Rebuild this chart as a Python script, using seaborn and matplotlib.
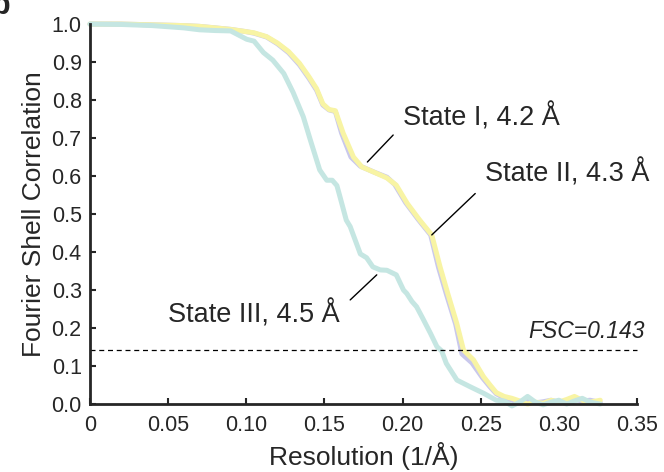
import pandas as pd
import matplotlib
matplotlib.use("Agg")
import matplotlib.pyplot as plt
import seaborn as sns

# ================================
# 1. FSC curves
# ================================

res_state2 = [0, 0.02, 0.04, 0.06, 0.07, 0.08, 0.09, 0.10, 0.105, 0.113, 0.12, 0.127,
              0.134, 0.14, 0.145, 0.149, 0.153, 0.157, 0.162, 0.1686, 0.174, 0.1835,
              0.19, 0.196, 0.203, 0.211, 0.2187, 0.224, 0.229, 0.2347, 0.239, 0.2454,
              0.2518, 0.256, 0.26, 0.265, 0.27, 0.275, 0.28, 0.285, 0.29, 0.295, 0.30,
              0.305, 0.31, 0.315, 0.32, 0.3265]
fsc_state2 = [1.0, 1.0, 0.998, 0.996, 0.994, 0.99, 0.986, 0.98, 0.977, 0.967, 0.95, 0.928,
              0.897, 0.862, 0.83, 0.79, 0.775, 0.772, 0.713, 0.65, 0.624, 0.607,
              0.595, 0.576, 0.528, 0.484, 0.445, 0.361, 0.29, 0.212, 0.142, 0.116,
              0.072, 0.05, 0.03, 0.02, 0.015, 0.008, 0.0, 0.005, 0.002, 0.01, 0.005,
              0.012, 0.02, 0.01, 0.005, 0.01]

res_state1 = [0, 0.02, 0.04, 0.06, 0.07, 0.08, 0.09, 0.10, 0.105, 0.113, 0.12, 0.127,
              0.134, 0.14, 0.145, 0.149, 0.153, 0.157, 0.161, 0.167, 0.173, 0.182,
              0.19, 0.195, 0.202, 0.21, 0.218, 0.223, 0.228, 0.234, 0.238, 0.2445,
              0.251, 0.256, 0.26, 0.265, 0.27, 0.275, 0.28, 0.285, 0.29, 0.295, 0.30,
              0.305, 0.31, 0.315, 0.32, 0.3265]
fsc_state1 = [1.0, 1.0, 0.998, 0.996, 0.994, 0.99, 0.986, 0.98, 0.976, 0.966, 0.948, 0.925,
              0.893, 0.858, 0.826, 0.787, 0.774, 0.77, 0.713, 0.65, 0.626, 0.61,
              0.597, 0.578, 0.53, 0.486, 0.445, 0.36, 0.29, 0.21, 0.132, 0.108,
              0.07, 0.045, 0.027, 0.016, 0.01, 0.005, 0.008, 0.003, 0.006, 0.01, 0.004,
              0.006, 0.012, 0.008, 0.01, 0.004]

res_state3 = [0, 0.02, 0.04, 0.05, 0.06, 0.07, 0.08, 0.09, 0.1003, 0.105, 0.111, 0.117,
              0.124, 0.13, 0.1365, 0.141, 0.147, 0.1515, 0.155, 0.158, 0.16, 0.164,
              0.1665, 0.173, 0.177, 0.181, 0.1857, 0.19, 0.196, 0.2006, 0.2027, 0.206,
              0.209, 0.213, 0.218, 0.222, 0.225, 0.228, 0.2348, 0.243, 0.252, 0.26,
              0.265, 0.27, 0.275, 0.28, 0.285, 0.29, 0.295, 0.30, 0.305, 0.31, 0.315,
              0.32, 0.3265]
fsc_state3 = [1.0, 0.999, 0.996, 0.993, 0.99, 0.985, 0.983, 0.982, 0.96, 0.955, 0.925, 0.905,
              0.87, 0.82, 0.756, 0.695, 0.616, 0.589, 0.589, 0.575, 0.545, 0.484,
              0.467, 0.395, 0.385, 0.361, 0.353, 0.352, 0.34, 0.30, 0.291, 0.27,
              0.256, 0.225, 0.185, 0.151, 0.14, 0.107, 0.063, 0.046, 0.028, 0.01,
              0.008, -0.005, 0.005, 0.02, 0.005, -0.002, 0.005, 0.01, 0.0, 0.008, 0.015,
              0.005, 0.0]

x_ticks = [0, 0.05, 0.10, 0.15, 0.20, 0.25, 0.30, 0.35]
x_ticklabels = ["0", "0.05", "0.10", "0.15", "0.20", "0.25", "0.30", "0.35"]
y_ticks = [0.0, 0.1, 0.2, 0.3, 0.4, 0.5, 0.6, 0.7, 0.8, 0.9, 1.0]

fsc_cutoff = 0.143

# ================================
# 2. Plot
# ================================

sns.set_style("ticks")
plt.rcParams["font.family"] = ["Liberation Sans", "DejaVu Sans"]

fig = plt.figure(figsize=(6.64, 4.72), dpi=100)
ax = fig.add_axes([0.1355, 0.144, 0.8238, 0.805])

curves = [
    (res_state1, fsc_state1, "#c9c8ec"),
    (res_state2, fsc_state2, "#f8f4a4"),
    (res_state3, fsc_state3, "#c5e6e2"),
]
for xs, ys, col in curves:
    df = pd.DataFrame({"res": xs, "fsc": ys})
    sns.lineplot(data=df, x="res", y="fsc", ax=ax, color=col, lw=3.6,
                 sort=False, estimator=None, clip_on=False,
                 solid_capstyle="round", solid_joinstyle="round")

ax.plot([0, 0.35], [fsc_cutoff, fsc_cutoff], color="black", lw=0.9,
        linestyle=(0, (4, 3)), clip_on=False)
ax.text(0.355, 0.19, "FSC=0.143", style="italic", fontsize=16.5,
        ha="right", va="center")

# labels + leader lines
ax.text(0.2004, 0.755, "State I, 4.2 Å", fontsize=19.5, ha="left", va="center")
ax.plot([0.194, 0.1775], [0.708, 0.637], color="black", lw=1)
ax.text(0.2529, 0.608, "State II, 4.3 Å", fontsize=19.5, ha="left", va="center")
ax.plot([0.2465, 0.2187], [0.554, 0.445], color="black", lw=1)
ax.text(0.05, 0.235, "State III, 4.5 Å", fontsize=19.5, ha="left", va="center")
ax.plot([0.1835, 0.1665], [0.34, 0.274], color="black", lw=1)

ax.set_xlim(0, 0.35)
ax.set_ylim(0, 1.0)
ax.set_xticks(x_ticks)
ax.set_xticklabels(x_ticklabels)
ax.set_yticks(y_ticks)
ax.set_yticklabels([f"{v:.1f}" for v in y_ticks])
ax.tick_params(direction="in", length=4, width=1.5, labelsize=15.5, pad=6)
ax.tick_params(axis="x", pad=8)
sns.despine(ax=ax)
for s in ["left", "bottom"]:
    ax.spines[s].set_linewidth(2)

ax.set_xlabel("Resolution (1/Å)", fontsize=19)
ax.set_ylabel("Fourier Shell Correlation", fontsize=19)

# panel letter, cut off at the corner like in the source figure
fig.text(11 / 664, 1 - 14 / 472, "b", fontsize=22, fontweight="bold",
         ha="right", va="baseline")

fig.savefig("out.png", dpi=100)
